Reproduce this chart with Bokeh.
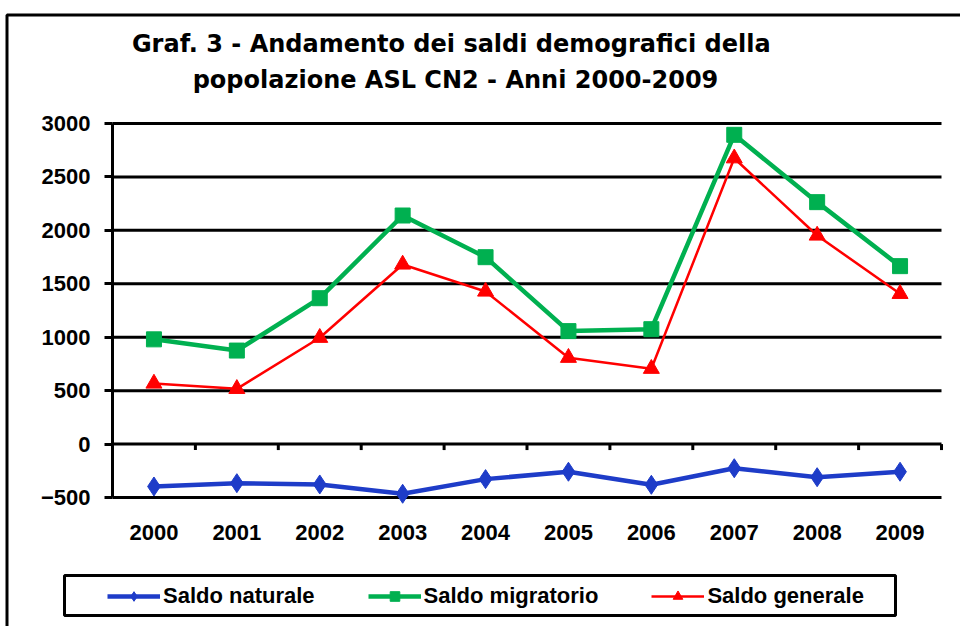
from bokeh.plotting import figure
from bokeh.models import Range1d, FixedTicker, Legend, LegendItem, BoxAnnotation, Label
from bokeh.embed import file_html
from bokeh.resources import INLINE

# ---------------- data ----------------
years = ["2000", "2001", "2002", "2003", "2004", "2005", "2006", "2007", "2008", "2009"]
saldo_naturale = [-397, -366, -378, -465, -328, -259, -381, -226, -310, -259]
saldo_migratorio = [980, 875, 1365, 2139, 1749, 1057, 1075, 2894, 2264, 1665]
saldo_generale = [567, 517, 995, 1681, 1428, 808, 705, 2675, 1952, 1406]
y_ticks = [-500, 0, 500, 1000, 1500, 2000, 2500, 3000]
series_names = ["Saldo naturale", "Saldo migratorio", "Saldo generale"]
title_lines = ["Graf. 3 - Andamento  dei saldi demografici della",
               "popolazione ASL CN2 - Anni 2000-2009"]

# ---------------- layout (canvas pixels) ----------------
W, H = 960, 626
PLOT_L, PLOT_R, PLOT_T, PLOT_B = 112, 941, 123, 497   # where the value area sits
FONT = "Liberation Sans"
TITLE_FONT = "DejaVu Sans"
BLUE, GREEN, RED = "#1E3CC8", "#00B050", "#FF0000"

n = len(years)
x_lo, x_hi = -0.5, n - 0.5
y_lo, y_hi = y_ticks[0], y_ticks[-1]
sx = (x_hi - x_lo) / (PLOT_R - PLOT_L)      # data per px
sy = (y_hi - y_lo) / (PLOT_B - PLOT_T)


def px_to_x(px):
    return x_lo + (px - PLOT_L) * sx


def py_to_y(py):
    return y_hi - (py - PLOT_T) * sy


x_range = Range1d(px_to_x(0), px_to_x(W))
y_range = Range1d(py_to_y(H), py_to_y(0))

p = figure(width=W, height=H, x_range=x_range, y_range=y_range,
           output_backend="svg", toolbar_location=None, title=None,
           min_border=0)
p.outline_line_color = None
p.background_fill_color = "white"
p.border_fill_color = "white"
p.xgrid.visible = False
p.ygrid.visible = False

xs = list(range(n))

# x axis: labels only, sitting under the -500 line
p.xaxis.fixed_location = y_lo
p.xaxis.ticker = FixedTicker(ticks=xs)
p.xaxis.major_label_overrides = {i: y for i, y in enumerate(years)}
p.xaxis.axis_line_color = None
p.xaxis.major_tick_line_color = None
p.xaxis.minor_tick_line_color = None
p.xaxis.major_label_standoff = 21
p.xaxis.major_label_text_font = FONT
p.xaxis.major_label_text_font_size = "22px"
p.xaxis.major_label_text_font_style = "bold"
p.xaxis.major_label_text_color = "black"

# y axis
p.yaxis.fixed_location = x_lo
p.yaxis.bounds = (y_lo, y_hi)
p.yaxis.ticker = FixedTicker(ticks=y_ticks)
p.yaxis.axis_line_width = 3
p.yaxis.axis_line_color = "black"
p.yaxis.major_tick_line_width = 3
p.yaxis.major_tick_line_color = "black"
p.yaxis.major_tick_out = 8
p.yaxis.major_tick_in = 0
p.yaxis.minor_tick_line_color = None
p.yaxis.major_label_standoff = 14
p.yaxis.major_label_text_font = FONT
p.yaxis.major_label_text_font_size = "22px"
p.yaxis.major_label_text_font_style = "bold"
p.yaxis.major_label_text_color = "black"

# horizontal gridlines across the category span
p.segment(x0=[x_lo] * len(y_ticks), y0=y_ticks, x1=[x_hi] * len(y_ticks), y1=y_ticks,
          line_color="black", line_width=3)

# category tick marks on the zero line
tick_len = 6 * sy
bounds = [i - 0.5 for i in range(n + 1)]
p.segment(x0=bounds, y0=[0] * len(bounds), x1=bounds, y1=[-tick_len] * len(bounds),
          line_color="black", line_width=3)

# series
b_line = p.line(xs, saldo_naturale, line_color=BLUE, line_width=4.5)
b_mark = p.scatter(xs, saldo_naturale, marker="diamond", size=19, color=BLUE)
g_line = p.line(xs, saldo_migratorio, line_color=GREEN, line_width=4.5)
g_mark = p.scatter(xs, saldo_migratorio, marker="square", size=15, color=GREEN)
r_line = p.line(xs, saldo_generale, line_color=RED, line_width=2.5)
r_mark = p.scatter(xs, saldo_generale, marker="triangle", size=16, color=RED)

# title
p.add_layout(Label(x=px_to_x(455), y=py_to_y(61.5), text="\n".join(title_lines),
                   text_align="center", text_baseline="middle",
                   text_font=TITLE_FONT, text_font_size="24px", text_font_style="bold",
                   text_color="black", text_line_height=1.3))

# outer frame and legend box
p.add_layout(BoxAnnotation(left=px_to_x(6.5), right=px_to_x(W + 50), top=py_to_y(14.5),
                           bottom=py_to_y(H + 50), fill_color=None, line_color="black",
                           line_width=3, line_alpha=1))
p.add_layout(BoxAnnotation(left=px_to_x(64), right=px_to_x(895), top=py_to_y(575),
                           bottom=py_to_y(615), fill_color=None, line_color="black",
                           line_width=3, line_alpha=1))

legend = Legend(items=[LegendItem(label=series_names[0], renderers=[b_line, b_mark]),
                       LegendItem(label=series_names[1], renderers=[g_line, g_mark]),
                       LegendItem(label=series_names[2], renderers=[r_line, r_mark])],
                orientation="horizontal", location=(107, H - 609),
                padding=0, margin=0, spacing=53, glyph_width=53, glyph_height=24,
                label_height=24, label_standoff=3, border_line_alpha=0,
                background_fill_alpha=0,
                label_text_font=FONT, label_text_font_size="22px",
                label_text_font_style="bold", label_text_color="black")
p.add_layout(legend, "center")

open("out.html", "w").write(file_html(p, INLINE))
